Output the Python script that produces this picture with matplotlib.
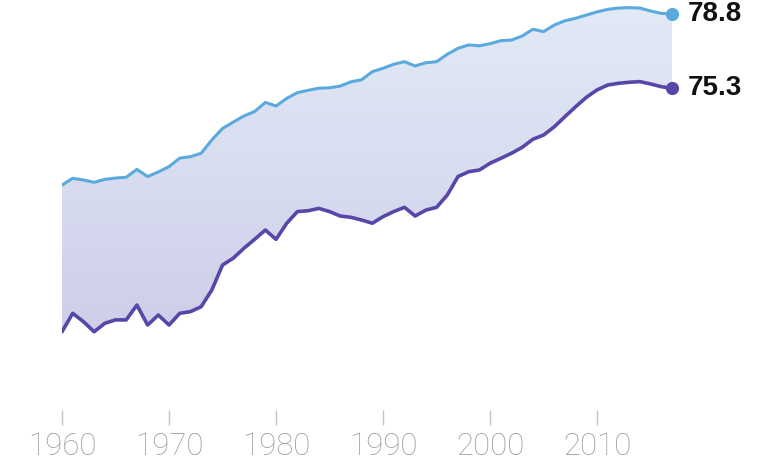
import numpy as np
import matplotlib.pyplot as plt
from matplotlib.colors import LinearSegmentedColormap

years = list(range(1960, 2018))

upper = [70.73, 71.05, 70.97, 70.86, 71.00, 71.06, 71.10, 71.47, 71.13, 71.35,
         71.60, 72.00, 72.07, 72.23, 72.86, 73.40, 73.70, 73.99, 74.20, 74.63,
         74.46, 74.82, 75.09, 75.20, 75.30, 75.32, 75.40, 75.60, 75.70, 76.08,
         76.24, 76.43, 76.55, 76.35, 76.50, 76.55, 76.90, 77.18, 77.34, 77.30,
         77.40, 77.54, 77.57, 77.76, 78.08, 77.97, 78.28, 78.48, 78.60, 78.75,
         78.90, 79.02, 79.08, 79.10, 79.08, 78.94, 78.83, 78.80]

lower = [63.81, 64.68, 64.29, 63.81, 64.21, 64.37, 64.37, 65.07, 64.13, 64.60,
         64.13, 64.68, 64.76, 64.99, 65.78, 66.96, 67.28, 67.75, 68.17, 68.61,
         68.17, 68.93, 69.48, 69.52, 69.63, 69.48, 69.27, 69.21, 69.08, 68.93,
         69.24, 69.48, 69.68, 69.27, 69.55, 69.68, 70.26, 71.13, 71.36, 71.44,
         71.76, 71.99, 72.23, 72.51, 72.89, 73.09, 73.48, 73.96, 74.43, 74.87,
         75.22, 75.45, 75.53, 75.58, 75.61, 75.50, 75.37, 75.30]

decade_ticks = [1960, 1970, 1980, 1990, 2000, 2010]
end_labels = ["78.8", "75.3"]

upper_color = "#5aaadd"
lower_color = "#5747a8"

fig = plt.figure(figsize=(7.72, 4.65), dpi=100)
fig.patch.set_facecolor("white")
ax = fig.add_axes([62 / 772, 55 / 465, 610 / 772, 410 / 465])
ax.set_facecolor("white")

# shaded band between the two series, with a soft vertical gradient
band = ax.fill_between(years, lower, upper, facecolor="none", edgecolor="none")
grad = np.linspace(0, 1, 256).reshape(-1, 1)
cmap = LinearSegmentedColormap.from_list("band", ["#cdcde8", "#d8ddf0", "#e2eaf6"])
im = ax.imshow(grad, extent=[1960, 2017, 63.5, 79.3], origin="lower",
               cmap=cmap, aspect="auto", zorder=1, interpolation="bilinear")
im.set_clip_path(band.get_paths()[0], transform=ax.transData)

ax.plot(years, upper, color=upper_color, lw=2.2, zorder=3, solid_capstyle="round")
ax.plot(years, lower, color=lower_color, lw=2.6, zorder=3, solid_capstyle="round")

for series, color, text in [(upper, upper_color, end_labels[0]),
                            (lower, lower_color, end_labels[1])]:
    ax.plot([years[-1]], [series[-1]], "o", color=color, ms=8.5, zorder=4,
            clip_on=False)
    ax.annotate(text, (years[-1], series[-1]), xytext=(11, 0),
                textcoords="offset points", ha="left", va="center",
                fontsize=20, fontweight="bold", color="#111111",
                family="Liberation Sans")

ax.set_xlim(1960, 2017)
ax.set_ylim(60.12, 79.46)

for s in ax.spines.values():
    s.set_visible(False)
ax.set_yticks([])
ax.set_xticks(decade_ticks)
ax.set_xticklabels([str(t) for t in decade_ticks])
ax.tick_params(axis="x", length=11, width=1, color="#c4c4c4", pad=5,
               labelsize=22.5, labelcolor="#9c9c9c")
for lbl in ax.get_xticklabels():
    lbl.set_family("Roboto")
    lbl.set_fontweight("light")

fig.savefig("out.png", dpi=100, facecolor="white")
